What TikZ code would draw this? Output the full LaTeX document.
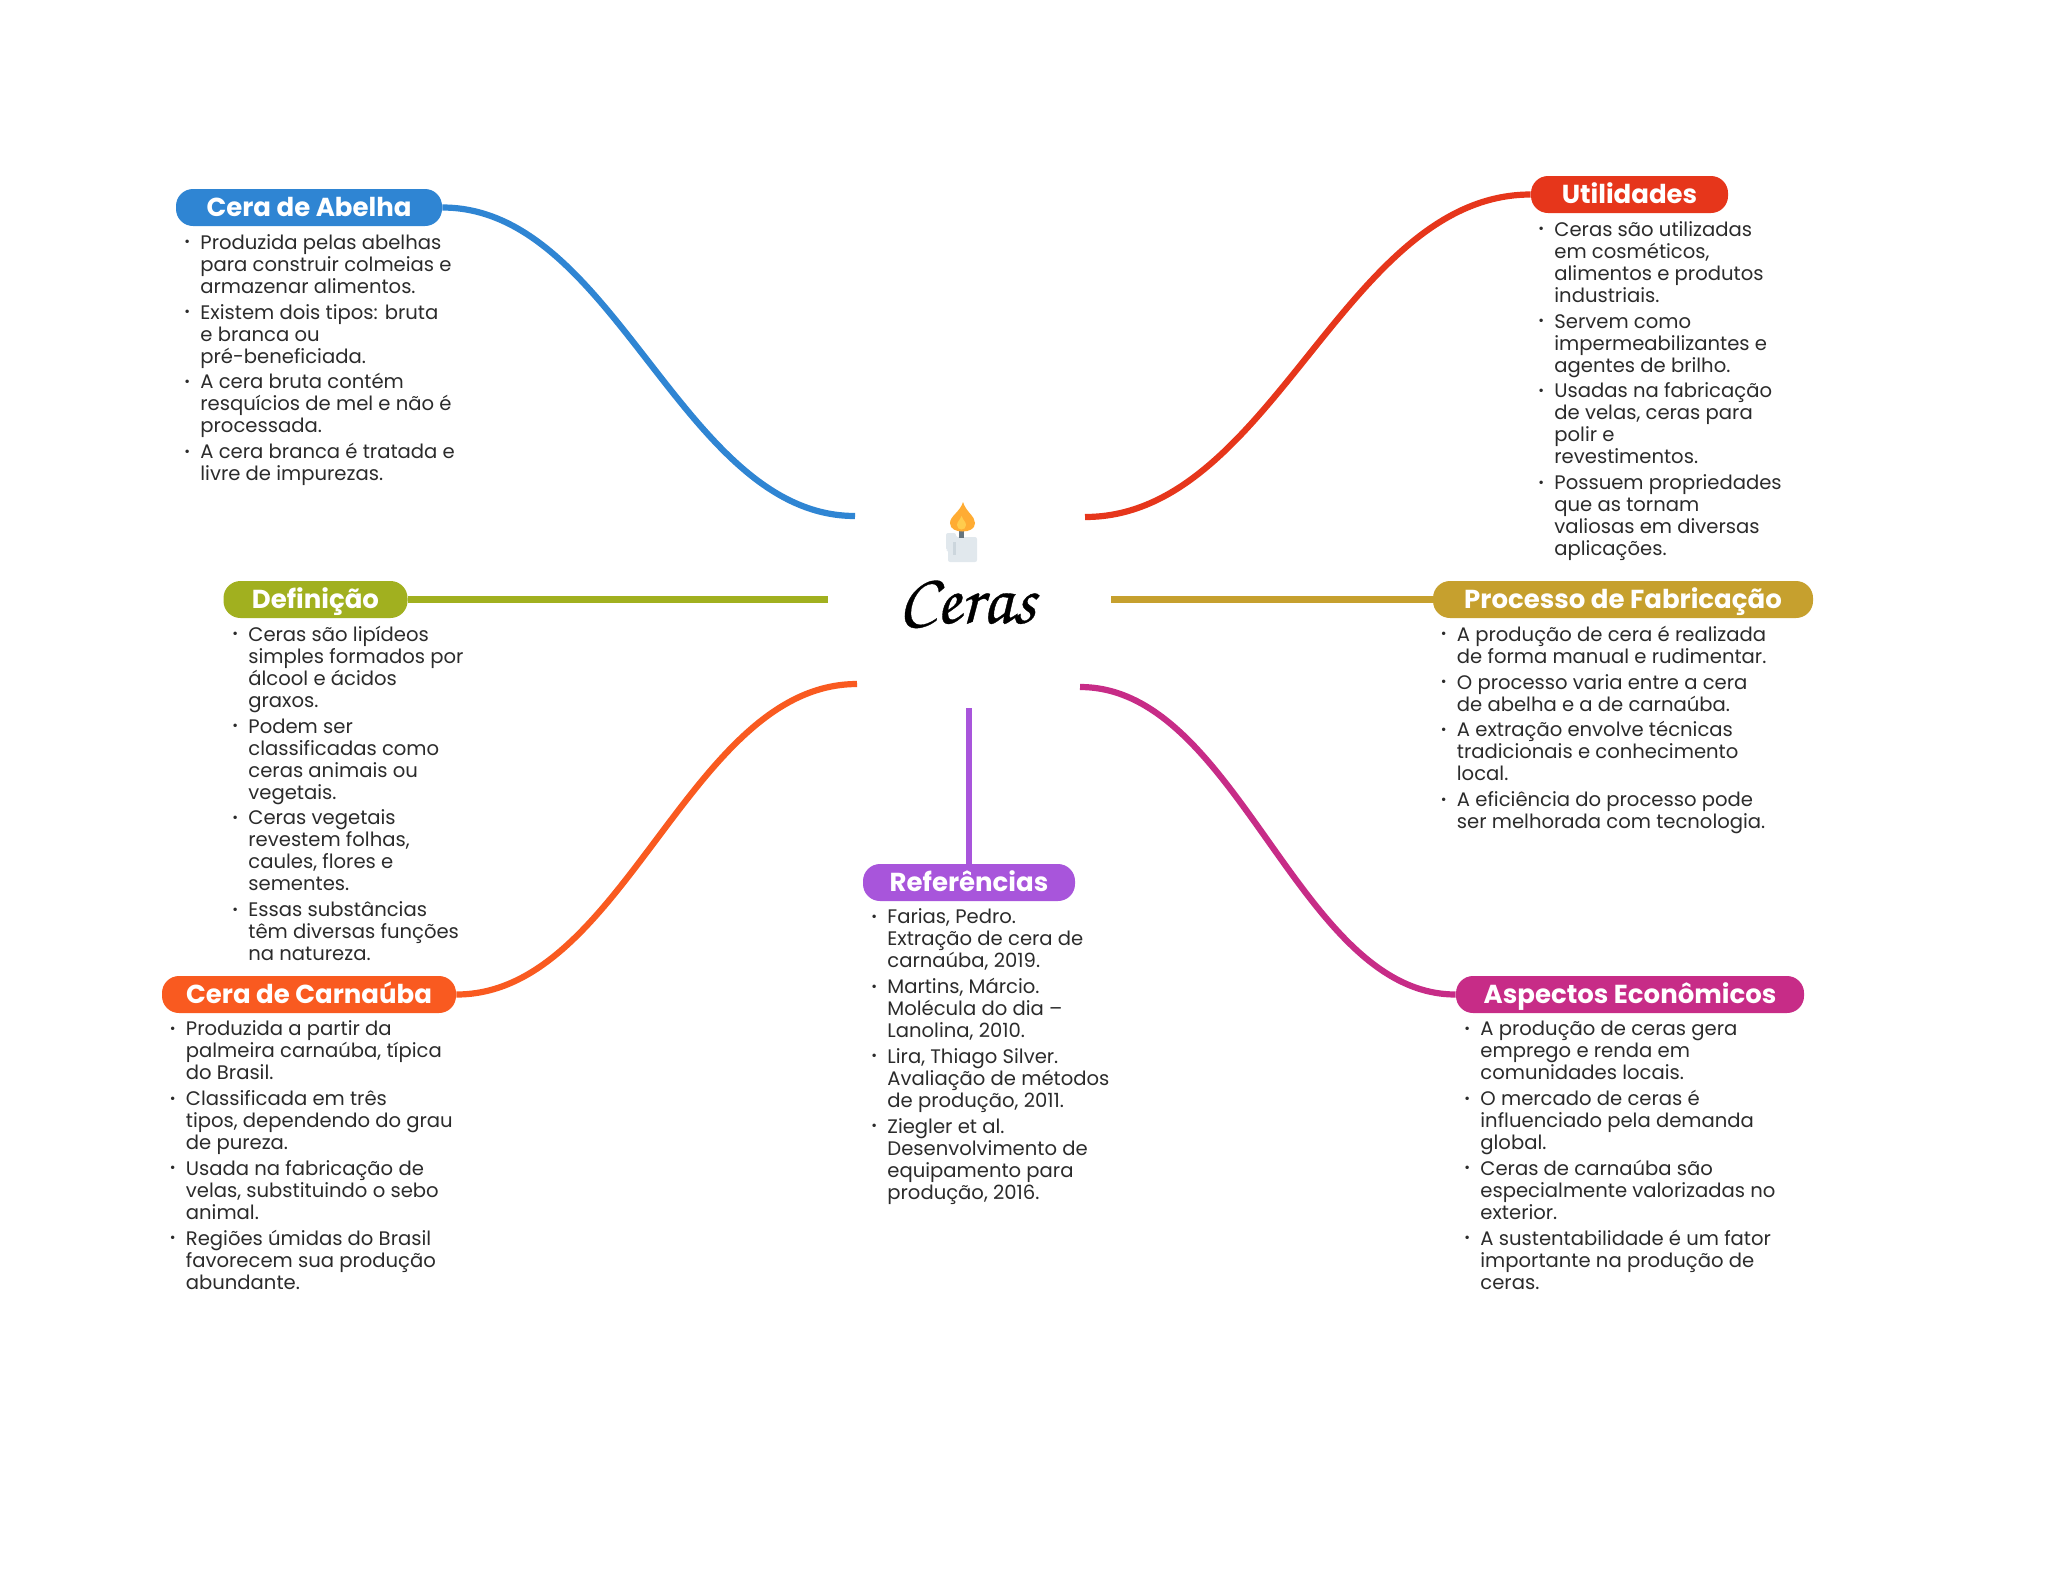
\documentclass[tikz,border=0pt]{standalone}
\usepackage{fontspec}
\setmainfont{Poppins}
\newfontfamily\chorusfont[FakeBold=0.5]{TeX Gyre Chorus}
\usetikzlibrary{calc}

\definecolor{abelhacol}{HTML}{2F85D3}
\definecolor{utilcol}{HTML}{E6361B}
\definecolor{defcol}{HTML}{A1B01F}
\definecolor{fabcol}{HTML}{C6A02E}
\definecolor{carnacol}{HTML}{F95A20}
\definecolor{econcol}{HTML}{C72C87}
\definecolor{refcol}{HTML}{A855DB}
\definecolor{listcol}{HTML}{2B2B2B}
\definecolor{waxcol}{HTML}{E1E8ED}
\definecolor{waxdark}{HTML}{CCD6DD}
\definecolor{wickcol}{HTML}{66757F}
\definecolor{flamecol}{HTML}{FFAC33}
\definecolor{flamein}{HTML}{FFCC4D}

\newcommand{\bul}{\rule{0pt}{8pt}\makebox[0pt][r]{\makebox[8pt][l]{\raisebox{1.25pt}{\fontsize{7}{7}\selectfont\textbullet}}}}
\newcommand{\gap}{\\[1.85pt]}

\tikzset{
	pill/.style={rounded corners=8.5pt, inner sep=0pt, text height=13.65pt, text depth=4.85pt, text=white,
		font=\fontsize{13}{14}\selectfont\bfseries},
	listing/.style={anchor=north west, inner sep=0pt, align=left, text=listcol,
		font=\fontsize{9.8}{11}\selectfont},
	branch/.style={line width=3.1pt},
}

\begin{document}
\begin{tikzpicture}[x=0.5pt, y=-0.5pt]

	\useasboundingbox (0, 0) rectangle (2048, 1569);

	% pills
	\node [pill, fill=abelhacol, minimum width=133pt] (abelha) at (309, 207.5) {Cera de Abelha};
	\node [pill, fill=utilcol, minimum width=98.5pt] (util) at (1629.5, 194.5) {Utilidades};
	\node [pill, fill=defcol, minimum width=92pt] (defin) at (315.5, 599.5) {Definição};
	\node [pill, fill=fabcol, minimum width=190pt] (fab) at (1623, 599.5) {Processo de Fabricação};
	\node [pill, fill=carnacol, minimum width=147pt] (carna) at (309, 994.5) {Cera de Carnaúba};
	\node [pill, fill=econcol, minimum width=174pt] (econ) at (1630, 994.5) {Aspectos Econômicos};
	\node [pill, fill=refcol, minimum width=106pt] (refs) at (969, 882.5) {Referências};

	% ends of the branches near the centre
	\coordinate (abelhaend) at (855, 516);
	\coordinate (utilend) at (1085, 517);
	\coordinate (defend) at (828, 599.5);
	\coordinate (fabend) at (1111, 599.5);
	\coordinate (carnaend) at (857, 684);
	\coordinate (econend) at (1080, 687);
	\coordinate (refend) at (969, 708);

	\draw [branch, abelhacol] (abelha.east) .. controls (615, 207.5) and (682, 516) .. (abelhaend);
	\draw [branch, utilcol] (util.west) .. controls (1344, 194.5) and (1272, 517) .. (utilend);
	\draw [branch, defcol] (defin.east) -- (defend);
	\draw [branch, fabcol] (fab.west) -- (fabend);
	\draw [branch, carnacol] (carna.east) .. controls (624, 994.5) and (689, 684) .. (carnaend);
	\draw [branch, econcol] (econ.west) .. controls (1298, 994.5) and (1238, 687) .. (econend);
	\draw [branch, refcol] (refs.north) -- (refend);

	% candle
	\fill [waxcol, rounded corners=1pt] (946, 533) -- (956, 533) -- (956, 537) -- (977, 537) -- (977, 562) -- (948, 562) -- (948, 550) -- (946, 550) -- cycle;
	\fill [waxdark] (953, 542) rectangle (956, 555);
	\fill [wickcol] (958.5, 530) rectangle (964, 538);
	\fill [flamecol] (963, 502) .. controls (960, 512) and (950, 516) .. (950, 523)
		.. controls (950, 529) and (956, 531.5) .. (962.5, 531.5)
		.. controls (969, 531.5) and (975, 529) .. (975, 523)
		.. controls (975, 516) and (966, 512) .. (963, 502);
	\fill [flamein] (961.5, 516) .. controls (960, 520) and (957, 522) .. (957, 525)
		.. controls (957, 531) and (966, 531) .. (966, 525)
		.. controls (966, 522) and (963, 520) .. (961.5, 516);

	\node [anchor=base, inner sep=0pt, font=\chorusfont\fontsize{36}{36}\selectfont] (title) at (967, 623) {Ceras};

	% lists
	\node [listing] (abelhalist) at (200, 233) {\bul Produzida pelas abelhas\\para construir colmeias e\\armazenar alimentos.\gap
		\bul Existem dois tipos: bruta\\e branca ou\\pré-beneficiada.\gap
		\bul A cera bruta contém\\resquícios de mel e não é\\processada.\gap
		\bul A cera branca é tratada e\\livre de impurezas.};
	\node [listing] (utillist) at (1554, 220) {\bul Ceras são utilizadas\\em cosméticos,\\alimentos e produtos\\industriais.\gap
		\bul Servem como\\impermeabilizantes e\\agentes de brilho.\gap
		\bul Usadas na fabricação\\de velas, ceras para\\polir e\\revestimentos.\gap
		\bul Possuem propriedades\\que as tornam\\valiosas em diversas\\aplicações.};
	\node [listing] (deflist) at (248, 625) {\bul Ceras são lipídeos\\simples formados por\\álcool e ácidos\\graxos.\gap
		\bul Podem ser\\classificadas como\\ceras animais ou\\vegetais.\gap
		\bul Ceras vegetais\\revestem folhas,\\caules, flores e\\sementes.\gap
		\bul Essas substâncias\\têm diversas funções\\na natureza.};
	\node [listing] (fablist) at (1456.5, 625) {\bul A produção de cera é realizada\\de forma manual e rudimentar.\gap
		\bul O processo varia entre a cera\\de abelha e a de carnaúba.\gap
		\bul A extração envolve técnicas\\tradicionais e conhecimento\\local.\gap
		\bul A eficiência do processo pode\\ser melhorada com tecnologia.};
	\node [listing] (carnalist) at (185.5, 1019.5) {\bul Produzida a partir da\\palmeira carnaúba, típica\\do Brasil.\gap
		\bul Classificada em três\\tipos, dependendo do grau\\de pureza.\gap
		\bul Usada na fabricação de\\velas, substituindo o sebo\\animal.\gap
		\bul Regiões úmidas do Brasil\\favorecem sua produção\\abundante.};
	\node [listing] (econlist) at (1480, 1019.5) {\bul A produção de ceras gera\\emprego e renda em\\comunidades locais.\gap
		\bul O mercado de ceras é\\influenciado pela demanda\\global.\gap
		\bul Ceras de carnaúba são\\especialmente valorizadas no\\exterior.\gap
		\bul A sustentabilidade é um fator\\importante na produção de\\ceras.};
	\node [listing] (reflist) at (887, 907.5) {\bul Farias, Pedro.\\Extração de cera de\\carnaúba, 2019.\gap
		\bul Martins, Márcio.\\Molécula do dia –\\Lanolina, 2010.\gap
		\bul Lira, Thiago Silver.\\Avaliação de métodos\\de produção, 2011.\gap
		\bul Ziegler et al.\\Desenvolvimento de\\equipamento para\\produção, 2016.};

\end{tikzpicture}
\end{document}
